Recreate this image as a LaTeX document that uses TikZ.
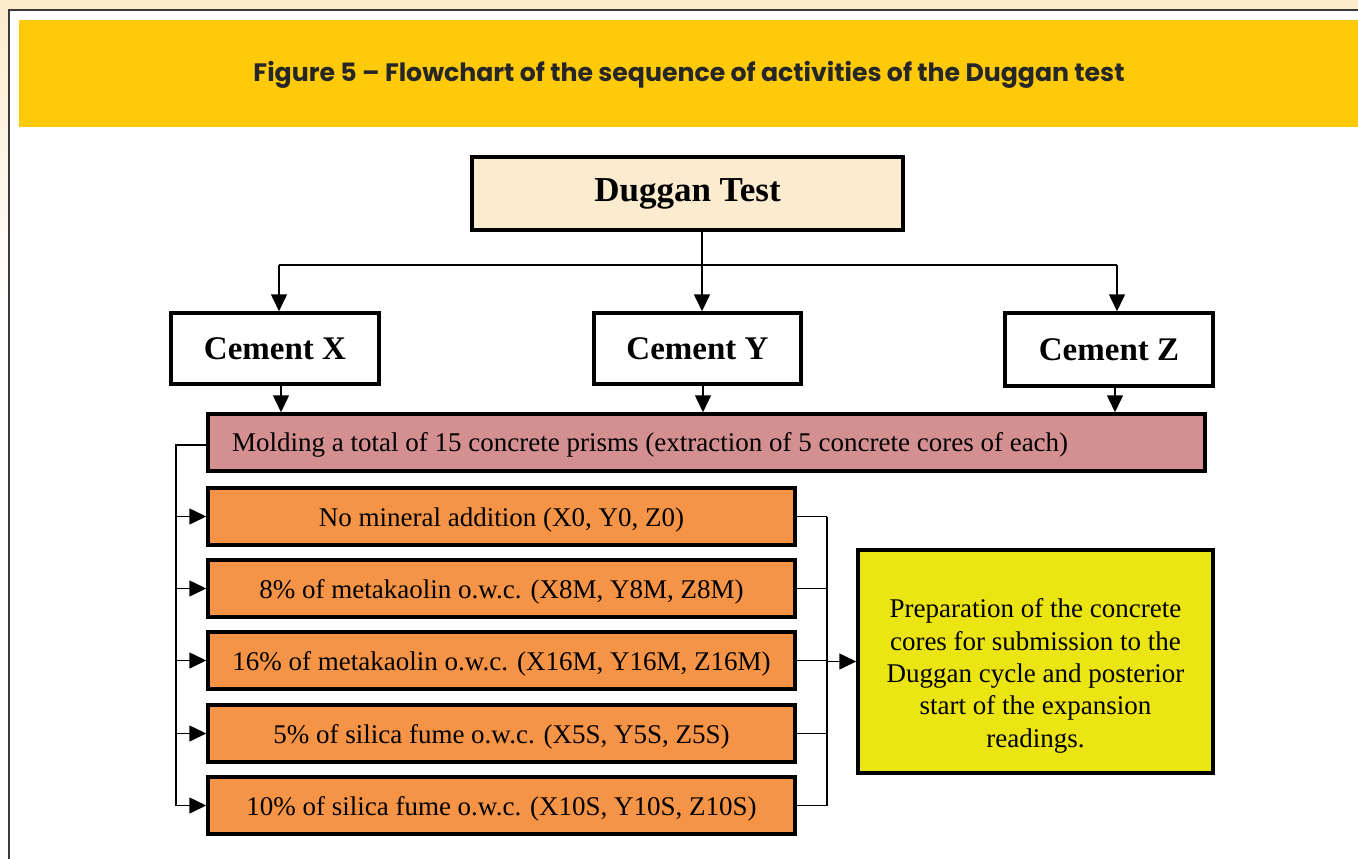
\documentclass[tikz,border=0pt]{standalone}
\usepackage{fontspec}
\setmainfont{Liberation Serif}
\newfontfamily\titlefont{Poppins}
\usetikzlibrary{arrows.meta}
\definecolor{banner}{HTML}{FECA0A}
\definecolor{cream}{HTML}{FCEBCB}
\definecolor{parch}{HTML}{FBEBCF}
\definecolor{pinkbox}{HTML}{D48F90}
\definecolor{orangebox}{HTML}{F59446}
\definecolor{yellowbox}{HTML}{ECE514}
\definecolor{framecol}{HTML}{3A3A3A}
\tikzset{
  box/.style={draw=black, line width=3.5pt, inner sep=0pt, align=center},
  cement/.style={box, fill=white, minimum width=208pt, minimum height=71pt, font=\fontsize{33}{37}\selectfont\bfseries},
  opt/.style={box, fill=orangebox, minimum width=587pt, minimum height=57pt, text height=19pt, text depth=0pt, font=\fontsize{27}{30}\selectfont},
  conn/.style={draw=black, line width=1.6pt},
  arr/.style={conn, -{Triangle[length=17pt,width=16pt]}},
}
\begin{document}
\begin{tikzpicture}[x=1pt,y=-1pt]
\useasboundingbox (0,0) rectangle (1358,859);
% page background
\shade[top color=cream, bottom color=white] (0,0) rectangle (1358,300);
\fill[white] (9,10) rectangle (1358,859);
\draw[framecol, line width=1.3pt] (9,859) -- (9,10) -- (1358,10);
% banner
\fill[banner] (19,20) rectangle (1358,127);
\node[font=\titlefont\bfseries\fontsize{25.2}{28}\selectfont, text=black!85] (title) at (689,74.5) {Figure 5 – Flowchart of the sequence of activities of the Duggan test};
% top box
\node[box, fill=parch, minimum width=431pt, minimum height=73pt, font=\fontsize{35}{39}\selectfont\bfseries] (dug) at (687.5,193.5) {Duggan Test};
% cements
\node[cement] (cx) at (275,348.5) {Cement X};
\node[cement, minimum width=207pt] (cy) at (697.5,348.5) {Cement Y};
\node[cement, minimum height=73pt] (cz) at (1109,349.5) {Cement Z};
% molding
\node[box, fill=pinkbox, minimum width=997pt, minimum height=57pt] (mold) at (706.5,442.5) {};
\node[anchor=west, font=\fontsize{27}{30}\selectfont, inner sep=0pt] (moldtxt) at (232,445) {Molding a total of 15 concrete prisms (extraction of 5 concrete cores of each)};
% options
\node[opt] (o1) at (501.5,516.5) {No mineral addition (X0, Y0, Z0)};
\node[opt] (o2) at (501.5,588.5) {8\% of metakaolin o.w.c. (X8M, Y8M, Z8M)};
\node[opt] (o3) at (501.5,660.5) {16\% of metakaolin o.w.c. (X16M, Y16M, Z16M)};
\node[opt] (o4) at (501.5,733.5) {5\% of silica fume o.w.c. (X5S, Y5S, Z5S)};
\node[opt] (o5) at (501.5,805.5) {10\% of silica fume o.w.c. (X10S, Y10S, Z10S)};
% final
\node[box, fill=yellowbox, minimum width=355pt, minimum height=223pt] (prep) at (1035.5,661.5) {};
\node[align=center, inner sep=0pt, font=\fontsize{27}{32.3}\selectfont] (preptxt) at (1035.5,676) {Preparation of the concrete\\cores for submission to the\\Duggan cycle and posterior\\start of the expansion\\readings.};
% connectors top
\coordinate (hub) at (702,265);
\coordinate (hx) at (279,265);
\coordinate (hz) at (1117,265);
\draw[conn] (hub |- dug.south) -- (hub);
\draw[conn] (hx) -- (hz);
\draw[arr] (hx) -- (hx |- cx.north);
\draw[arr] (hub) -- (hub |- cy.north);
\draw[arr] (hz) -- (hz |- cz.north);
\coordinate (bx) at (281,0);
\coordinate (by) at (703,0);
\coordinate (bz) at (1115,0);
\draw[arr] (bx |- cx.south) -- (bx |- mold.north);
\draw[arr] (by |- cy.south) -- (by |- mold.north);
\draw[arr] (bz |- cz.south) -- (bz |- mold.north);
% left bus
\coordinate (lb) at (176,445);
\draw[conn] (mold.west |- lb) -- (lb) -- (lb |- o5.west);
\foreach \o in {o1,o2,o3,o4,o5}{
  \draw[arr] (lb |- \o.west) -- (\o.west);
}
% right bus
\coordinate (rb) at (827,516.5);
\foreach \o in {o1,o2,o3,o4,o5}{
  \draw[conn] (\o.east) -- (rb |- \o.east);
}
\draw[conn] (rb |- o1.east) -- (rb |- o5.east);
\draw[arr] (rb |- prep.west) -- (prep.west);
\end{tikzpicture}
\end{document}
